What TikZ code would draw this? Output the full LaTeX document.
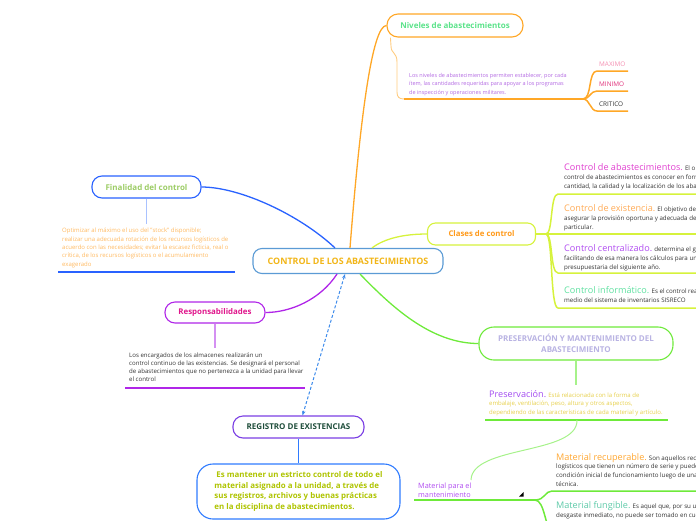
\documentclass[tikz,border=0pt]{standalone}
\usepackage{fontspec}
\setmainfont{Open Sans}
\usetikzlibrary{arrows.meta,calc}
\newcommand{\ttlfont}{\fontsize{9.1}{9.5}\selectfont}
\definecolor{cMainB}{HTML}{5B9BD5}
\definecolor{cGold}{HTML}{F2B619}
\definecolor{cOrange}{HTML}{FFA726}
\definecolor{cOrangeL}{HTML}{FFCC80}
\definecolor{cGreenT}{HTML}{5BE38A}
\definecolor{cBlue}{HTML}{2962FF}
\definecolor{cBlueL}{HTML}{A9C2FF}
\definecolor{cLime}{HTML}{9CCC65}
\definecolor{cPeach}{HTML}{FFB960}
\definecolor{cPurple}{HTML}{B026E8}
\definecolor{cPurpleL}{HTML}{D490F2}
\definecolor{cMagenta}{HTML}{E0168C}
\definecolor{cViolet}{HTML}{7B3FE4}
\definecolor{cDkGreen}{HTML}{1E4D3A}
\definecolor{cRegB}{HTML}{2F7BFF}
\definecolor{cYG}{HTML}{AFC400}
\definecolor{cYellowG}{HTML}{D6F23C}
\definecolor{cOrangeT}{HTML}{FF9A1A}
\definecolor{cGreen}{HTML}{6EEA3A}
\definecolor{cGreenL}{HTML}{A6F28A}
\definecolor{cLav}{HTML}{B9B3E3}
\definecolor{cDash}{HTML}{3D8BEB}
\definecolor{cNivT}{HTML}{B36AE2}
\definecolor{cPink}{HTML}{F48FB1}
\definecolor{cPinkD}{HTML}{E0307A}
\definecolor{cBody}{HTML}{333333}
\definecolor{cTa}{HTML}{E040D0}
\definecolor{cTb}{HTML}{FFAA55}
\definecolor{cTc}{HTML}{B04CF0}
\definecolor{cTd}{HTML}{5EE0A0}
\definecolor{cPresT}{HTML}{A24BF0}
\definecolor{cPresB}{HTML}{E6CF4A}
\definecolor{cRecT}{HTML}{FFA630}
\definecolor{cFunT}{HTML}{5CC9A7}
\begin{document}
\begin{tikzpicture}[x=1pt,y=-1pt,
  topic/.style={draw, fill=white, line width=1.1pt, inner sep=0pt, font=\bfseries\fontsize{7.9}{9}\selectfont},
  body/.style={anchor=north west, align=left, inner sep=0pt, font=\fontsize{6.2}{9}\selectfont},
  myconn/.style={line width=1.3pt},
  mysub/.style={line width=0.9pt},
  myuline/.style={line width=1.5pt}]
\useasboundingbox (0,0) rectangle (696,520);
\clip (0,0) rectangle (696,520);

% ---------- topic boxes
\node[topic, draw=cMainB, text=cGold, minimum width=190pt, minimum height=25pt, rounded corners=9pt, font=\bfseries\fontsize{8.9}{10}\selectfont] (main) at (348,261) {CONTROL DE LOS ABASTECIMIENTOS};
\node[topic, draw=cOrange, text=cGreenT, minimum width=136pt, minimum height=23pt, rounded corners=11pt, font=\bfseries\fontsize{8}{9}\selectfont] (niv) at (455,25.5) {Niveles de abastecimientos};
\node[topic, draw=cBlue, text=cLime, minimum width=109pt, minimum height=22pt, rounded corners=10pt, font=\bfseries\fontsize{8}{9}\selectfont] (fin) at (146.5,187) {Finalidad del control};
\node[topic, draw=cPurple, text=cMagenta, minimum width=100pt, minimum height=21pt, rounded corners=10pt] (resp) at (215,312.5) {Responsabilidades};
\node[topic, draw=cViolet, text=cDkGreen, minimum width=131pt, minimum height=22pt, rounded corners=10pt, font=\bfseries\fontsize{8}{9}\selectfont] (reg) at (298.5,427) {REGISTRO DE EXISTENCIAS};
\node[topic, draw=cRegB, text=cYG, minimum width=203pt, minimum height=55pt, rounded corners=16pt, align=left, font=\bfseries\fontsize{7.9}{10.8}\selectfont] (regtxt) at (298.5,491.5) {\hspace{2pt}Es mantener un estricto control de todo el\\material asignado a la unidad, a través de\\sus registros, archivos y buenas prácticas\\en la disciplina de abastecimientos.};
\node[topic, draw=cYellowG, text=cOrangeT, minimum width=108pt, minimum height=22pt, rounded corners=8pt, font=\bfseries\fontsize{7.8}{9}\selectfont] (cla) at (481.5,234) {Clases de control};
\node[topic, draw=cGreen, text=cLav, minimum width=194pt, minimum height=33pt, rounded corners=15pt, align=center, font=\bfseries\fontsize{8}{11}\selectfont] (pres) at (576,343.5) {PRESERVACIÓN Y MANTENIMIENTO DEL\\ABASTECIMIENTO};

% ---------- main connectors
\draw[myconn, cOrange] ([xshift=2pt]main.north) .. controls (360,120) and (372,25.5) .. (niv.west);
\draw[myconn, cBlue] ([xshift=-13pt]main.north) .. controls (300,215) and (240,187) .. (fin.east);
\draw[myconn, cYellowG] ([xshift=24pt]main.north) .. controls (385,238) and (405,234) .. (cla.west);
\draw[myconn, cGreen] ([xshift=12pt]main.south) .. controls (390,305) and (430,343.5) .. (pres.west);
\draw[myconn, cPurple] ([xshift=-11pt]main.south) .. controls (320,300) and (290,312.5) .. (resp.east);
\draw[cDash, line width=1pt, dash pattern=on 3pt off 2pt, {Stealth[length=4.5pt,width=3.5pt]}-{Stealth[length=4.5pt,width=3.5pt]}] ([xshift=-3pt]main.south) -- ([xshift=4pt]reg.north);

% ---------- Niveles de abastecimientos
\coordinate (nivL) at (404,99);
\coordinate (nivR) at (583,99);
\draw[mysub, cOrangeL] ([xshift=4pt]niv.south west) -- (391,46) .. controls (391,54) and (397,52) .. (397,62) -- (397,92) .. controls (397,97) and (399,99) .. (nivL);
\draw[myuline, cOrange] (nivL) -- (nivR);
\node[body, text=cNivT, font=\fontsize{5.5}{8.5}\selectfont] (nivtxt) at (409,72.8) {Los niveles de abastecimientos permiten establecer, por cada\\ítem, las cantidades requeridas para apoyar a los programas\\de inspección y operaciones militares.};
\coordinate (maxL) at (597,71); \coordinate (maxR) at (628,71);
\coordinate (minL) at (597,91); \coordinate (minR) at (628,91);
\coordinate (criL) at (597,111); \coordinate (criR) at (628,111);
\draw[myuline, cOrange] (nivR) .. controls (592,99) and (588,71) .. (maxL) -- (maxR);
\draw[myuline, cOrange] (nivR) .. controls (590,99) and (590,91) .. (minL) -- (minR);
\draw[myuline, cOrange] (nivR) .. controls (590,99) and (590,111) .. (criL) -- (criR);
\node[anchor=base west, inner sep=0pt, text=cPink, font=\fontsize{6.4}{7}\selectfont] (maxt) at (599,66.5) {MAXIMO};
\node[anchor=base west, inner sep=0pt, text=cPinkD, font=\fontsize{6.4}{7}\selectfont] (mint) at (599,86.5) {MINIMO};
\node[anchor=base west, inner sep=0pt, text=cBody, font=\fontsize{6.4}{7}\selectfont] (crit) at (599,106.5) {CRITICO};

% ---------- Finalidad del control
\coordinate (finS) at (146.5,224);
\coordinate (finL) at (58,272); \coordinate (finR) at (235,272);
\draw[line width=1.2pt, cBlueL] (fin.south) -- (finS);
\node[body, text=cPeach, font=\fontsize{6}{8.3}\selectfont] (fintxt) at (62,228) {Optimizar al máximo el uso del "stock" disponible;\\realizar una adecuada rotación de los recursos logísticos de\\acuerdo con las necesidades; evitar la escasez ficticia, real o\\crítica, de los recursos logísticos o el acumulamiento\\exagerado};
\draw[myuline, cBlue] (finL) -- (finR);

% ---------- Responsabilidades
\coordinate (respS) at (215,348);
\coordinate (respL) at (125,388); \coordinate (respR) at (305,388);
\draw[line width=1.2pt, cPurpleL] (resp.south) -- (respS);
\node[body, text=cBody, font=\fontsize{6.1}{7.9}\selectfont] (resptxt) at (129,352.9) {Los encargados de los almacenes realizarán un\\control continuo de las existencias. Se designará el personal\\de abastecimientos que no pertenezca a la unidad para llevar\\el control};
\draw[myuline, cPurple] (respL) -- (respR);

% ---------- Registro
\draw[line width=1.2pt, cRegB] (reg.south) -- (regtxt.north);

% ---------- Clases de control
\coordinate (claJ) at (546,234);
\coordinate (caL) at (558,194); \coordinate (caR) at (700,194);
\coordinate (cbR) at (700,234);
\coordinate (ccL) at (558,273); \coordinate (ccR) at (700,273);
\coordinate (cdL) at (558,308); \coordinate (cdR) at (700,308);
\draw[myuline, cYellowG] (cla.east) -- (cbR);
\draw[myuline, cYellowG] (claJ) .. controls (553,234) and (550,194) .. (caL) -- (caR);
\draw[myuline, cYellowG] (claJ) .. controls (553,234) and (550,273) .. (ccL) -- (ccR);
\draw[myuline, cYellowG] (claJ) .. controls (553,234) and (550,308) .. (cdL) -- (cdR);
\node[body, text=cBody] (ca) at (564,163.1) {{\ttlfont\color{cTa}Control de abastecimientos.} El o\\control de abastecimientos es conocer en forma\\cantidad, la calidad y la localización de los abast};
\node[body, text=cBody] (cb) at (564,204.1) {{\ttlfont\color{cTb}Control de existencia.} El objetivo de\\asegurar la provisión oportuna y adecuada de c\\particular.};
\node[body, text=cBody] (cc) at (564,244.1) {{\ttlfont\color{cTc}Control centralizado.} determina el ga\\facilitando de esa manera los cálculos para una\\presupuestaria del siguiente año.};
\node[body, text=cBody, font=\fontsize{6.2}{9.5}\selectfont] (cd) at (564,286.1) {{\ttlfont\color{cTd}Control informático.} Es el control rea\\medio del sistema de inventarios SISRECO};

% ---------- Preservacion
\coordinate (presS) at (576,385);
\coordinate (prL) at (485,420); \coordinate (prR) at (668,420);
\coordinate (prJ) at (577,420);
\draw[line width=1.2pt, cGreenL] (pres.south) -- (presS);
\node[body, text=cPresB, font=\fontsize{6}{8.5}\selectfont] (prtxt) at (489,390.1) {{\ttlfont\color{cPresT}Preservación.} Está relacionada con la forma de\\embalaje, ventilación, peso, altura y otros aspectos,\\dependiendo de las características de cada material y artículo.};
\draw[myuline, cGreen] (prL) -- (prR);

% ---------- Material para el mantenimiento
\coordinate (matT) at (471,480);
\coordinate (matL) at (414,500); \coordinate (matR) at (535,500);
\draw[line width=1pt, cGreenL] (prJ) .. controls (578,455) and (472,445) .. (matT);
\begin{scope}
\clip (410,478) rectangle (540,499);
\node[body, text=cTc, font=\fontsize{7.3}{9.5}\selectfont] (mattxt) at (418,482.4) {Material para el\\mantenimiento};
\end{scope}
\draw[myuline, cGreen] (matL) -- (matR);
\fill[black] (519,496.5) -- (523.5,496.5) -- (523.5,492) -- cycle;
\coordinate (mrL) at (552,491); \coordinate (mrR) at (700,491);
\coordinate (mfL) at (552,530); \coordinate (mfR) at (700,530);
\draw[myuline, cGreen] (matR) .. controls (545,500) and (545,491) .. (mrL) -- (mrR);
\draw[myuline, cGreen] (matR) .. controls (545,500) and (545,530) .. (mfL) -- (mfR);
\node[body, text=cBody, font=\fontsize{6.2}{8.6}\selectfont] (mr) at (556,453.1) {{\ttlfont\color{cRecT}Material recuperable.} Son aquellos recu\\logísticos que tienen un número de serie y pueden\\condición inicial de funcionamiento luego de una i\\técnica.};
\node[body, text=cBody, font=\fontsize{6.2}{9.5}\selectfont] (mf) at (556,501.1) {{\ttlfont\color{cFunT}Material fungible.} Es aquel que, por su us\\desgaste inmediato, no puede ser tomado en cuen};
\end{tikzpicture}
\end{document}
